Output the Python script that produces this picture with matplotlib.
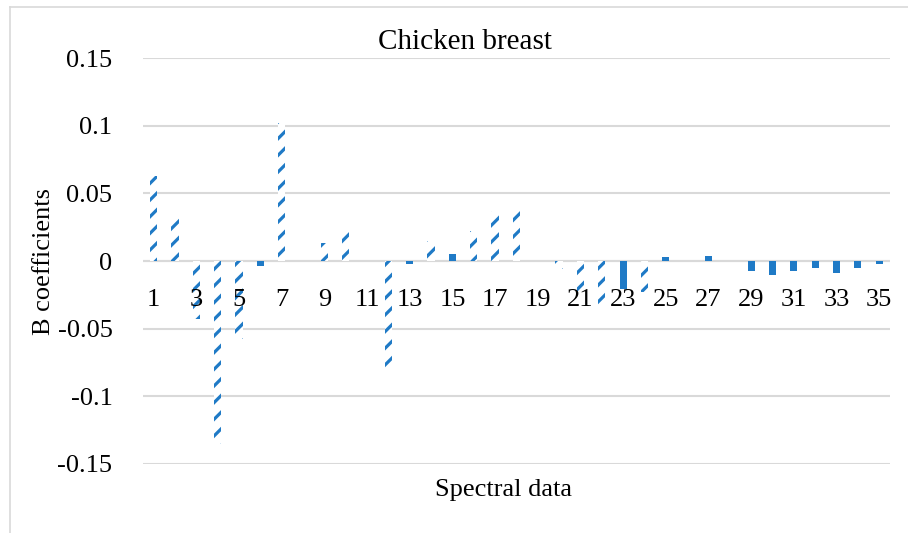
import matplotlib.pyplot as plt
from matplotlib.lines import Line2D

plt.rcParams['font.family'] = ['Liberation Serif', 'DejaVu Serif']
plt.rcParams['hatch.linewidth'] = 2.3

# B coefficients per spectral variable (1..35)
variables = list(range(1, 36))
coefs = [0.063, 0.032, -0.043, -0.135, -0.058, -0.004, 0.102, 0.0, 0.013, 0.025,
         0.0, -0.082, -0.002, 0.015, 0.005, 0.022, 0.037, 0.038, 0.0, -0.006,
         -0.023, -0.034, -0.021, -0.023, 0.003, 0.0, 0.004, 0.0, -0.0074, -0.0104,
         -0.0074, -0.0054, -0.0085, -0.0054, -0.0025]
# variables drawn with the patterned fill
patterned = [1, 2, 3, 4, 5, 7, 9, 10, 12, 14, 16, 17, 18, 20, 21, 22, 24]
yticks = [-0.15, -0.1, -0.05, 0, 0.05, 0.1, 0.15]
ytick_labels = ['-0.15', '-0.1', '-0.05', '0', '0.05', '0.1', '0.15']

blue = '#1f7ac6'

fig = plt.figure(figsize=(9.08, 5.33), dpi=100)
ax = fig.add_axes([0.1575, 0.1295, 0.8225, 0.7616])

for v, c in zip(variables, coefs):
    if v in patterned:
        ax.bar(v, c, width=0.34, facecolor='white', edgecolor=blue,
               hatch='//', linewidth=0, zorder=3)
    else:
        ax.bar(v, c, width=0.33, color=blue, linewidth=0, zorder=3)

ax.set_xlim(0.5, 35.5)
ax.set_ylim(-0.15, 0.15)
ax.set_yticks(yticks)
ax.set_yticklabels(ytick_labels, fontsize=19)
ax.grid(axis='y', color='#d9d9d9', linewidth=1.5, zorder=0)
ax.axhline(0, color='#d9d9d9', linewidth=1.5, zorder=1)
for s in ax.spines.values():
    s.set_visible(False)
ax.tick_params(axis='both', length=0)
ax.tick_params(axis='y', pad=22)

# category labels sit just under the zero line
ax.set_xticks([])
for v in variables[::2]:
    ax.text(v, -0.029, str(v), ha='center', va='center', fontsize=19,
            zorder=4)

ax.set_ylabel('B coefficients', fontsize=19, labelpad=2)
fig.text(0.5545, 0.08, 'Spectral data', ha='center', va='center', fontsize=19)
fig.text(0.512, 0.922, 'Chicken breast', ha='center', va='center', fontsize=21)

# outer frame
fig.add_artist(Line2D([0.011, 0.011], [0, 0.987], color='#d9d9d9', lw=1.2,
                      transform=fig.transFigure))
fig.add_artist(Line2D([0.011, 1], [0.987, 0.987], color='#d9d9d9', lw=1.2,
                      transform=fig.transFigure))

fig.savefig('out.png', dpi=100)
